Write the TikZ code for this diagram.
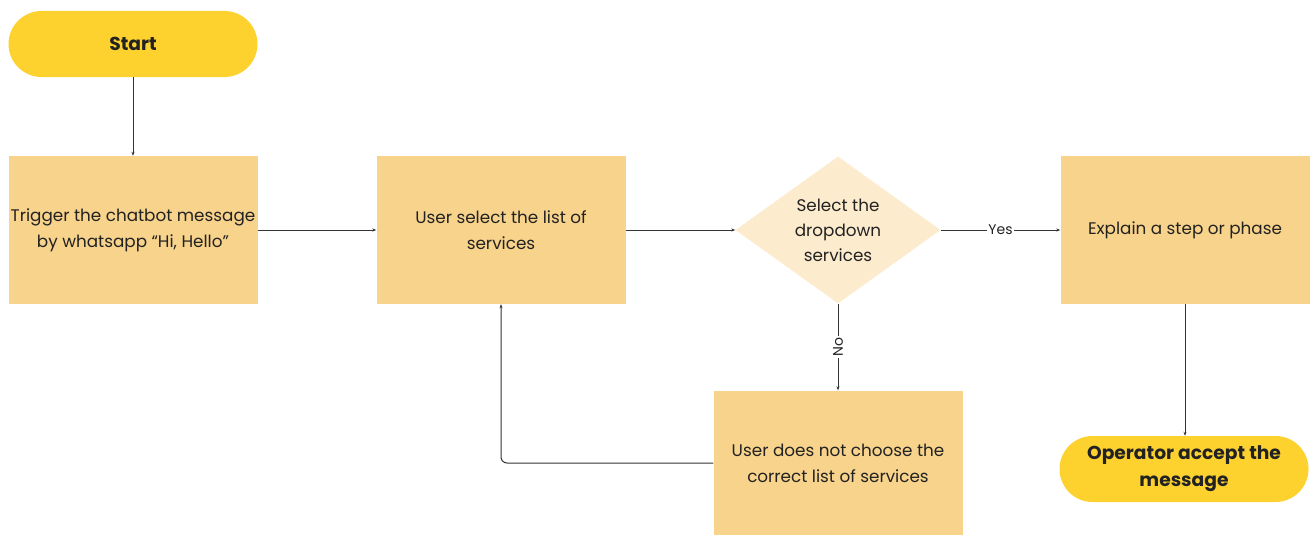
\documentclass[tikz,border=0pt]{standalone}
\usepackage{fontspec}
\setmainfont{Poppins}
\usetikzlibrary{shapes.geometric,shapes.misc,arrows.meta}
\definecolor{pill}{HTML}{FDD22F}
\definecolor{boxc}{HTML}{F8D38B}
\definecolor{dia}{HTML}{FDEBCD}
\definecolor{ln}{HTML}{333333}
\definecolor{tx}{HTML}{222222}
\begin{document}
\begin{tikzpicture}[x=1pt,y=-1pt,
  pillnode/.style={rounded rectangle, fill=pill, minimum width=249pt, minimum height=66pt, inner sep=0pt, font=\fontsize{18.7}{27}\selectfont\bfseries, text=tx, align=center},
  boxnode/.style={rectangle, fill=boxc, minimum width=249pt, minimum height=148pt, inner sep=0pt, font=\fontsize{16.8}{26}\selectfont, text=tx, align=center},
  dianode/.style={diamond, fill=dia, minimum width=205pt, minimum height=147pt, inner sep=0pt, aspect=1.4, font=\fontsize{16.8}{25}\selectfont, text=tx, align=center},
  conn/.style={draw=ln, line width=1pt, -{Stealth[length=4pt,width=3pt]}},
  lbl/.style={fill=white, inner sep=1.5pt, font=\fontsize{14}{16}\selectfont, text=tx}
]
\useasboundingbox (0,0) rectangle (1311,535);
\node[pillnode] (start) at (133,44) {Start};
\node[boxnode] (trig) at (133,230) {Trigger the chatbot message\\by whatsapp “Hi, Hello”};
\node[boxnode] (sel) at (501,230) {User select the list of\\services};
\node[dianode] (dd) at (838,230) {Select the\\dropdown\\services};
\node[boxnode] (exp) at (1185,230) {Explain a step or phase};
\node[boxnode, minimum height=145pt] (wrong) at (838,463) {User does not choose the\\correct list of services};
\node[pillnode] (end) at (1184,469) {Operator accept the\\message};

\draw[conn] (start.south) -- (trig.north);
\draw[conn] (trig.east) -- (sel.west);
\draw[conn] (sel.east) -- (dd.west);
\draw[conn] (dd.east) -- node[lbl] {Yes} (exp.west);
\draw[conn] (dd.south) -- node[lbl, rotate=90] {No} (wrong.north);
\draw[conn, rounded corners=6pt] (wrong.west) -| (sel.south);
\draw[conn] (exp.south) -- (end.north -| exp.south);
\end{tikzpicture}
\end{document}
